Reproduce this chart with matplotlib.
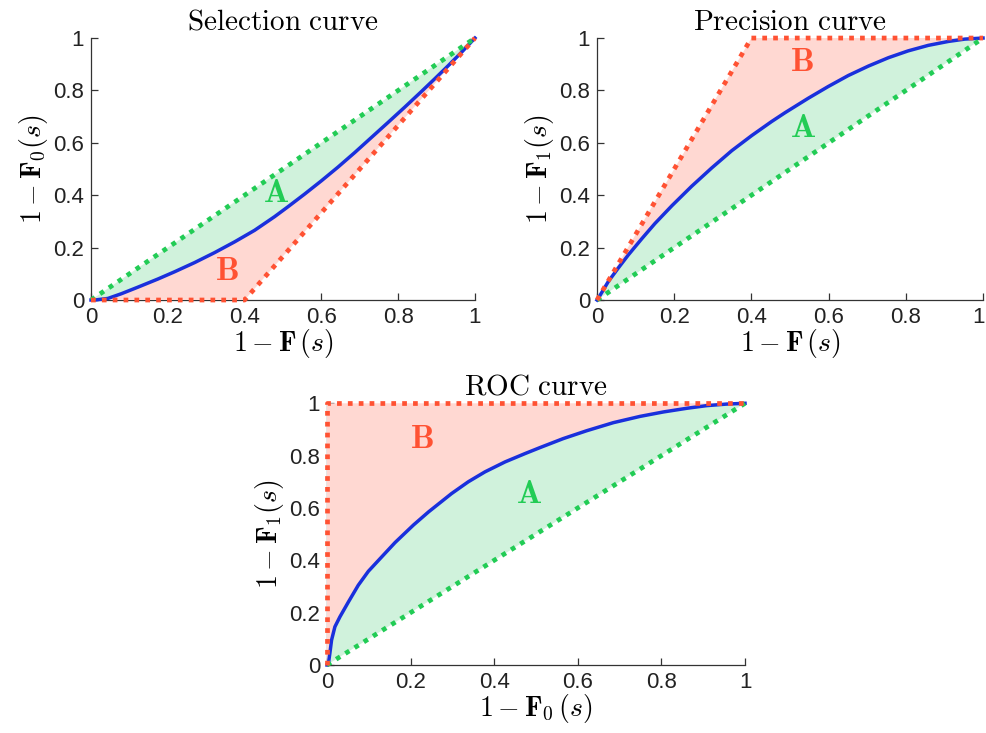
import matplotlib
matplotlib.use("Agg")
import matplotlib.pyplot as plt
import matplotlib.transforms as mtransforms

plt.rcParams['font.family'] = ['Liberation Sans', 'DejaVu Sans']
plt.rcParams['mathtext.fontset'] = 'cm'

# ---------------- data ----------------
# Selection curve: 1-F0(s) vs 1-F(s)
sel_x = [0.0, 0.01, 0.044, 0.079, 0.122, 0.174, 0.218, 0.27, 0.322, 0.374, 0.426, 0.478, 0.513,
         0.556, 0.60, 0.643, 0.687, 0.73, 0.773, 0.817, 0.86, 0.895, 0.93, 0.964, 1.0]
sel_y = [0.0, 0.0, 0.006, 0.024, 0.049, 0.080, 0.108, 0.143, 0.181, 0.222, 0.266, 0.318, 0.356,
         0.404, 0.455, 0.507, 0.563, 0.620, 0.677, 0.736, 0.795, 0.844, 0.894, 0.944, 1.0]
sel_ub_x = [0.0, 1.0]          # random bound
sel_ub_y = [0.0, 1.0]
sel_lb_x = [0.0, 0.4, 1.0]     # perfect bound
sel_lb_y = [0.0, 0.0, 1.0]

# Precision curve: 1-F1(s) vs 1-F(s)
pre_x = [0.0, 0.003, 0.029, 0.055, 0.081, 0.116, 0.15, 0.194, 0.245, 0.297, 0.349, 0.401, 0.452,
         0.487, 0.547, 0.599, 0.651, 0.703, 0.755, 0.806, 0.858, 0.91, 0.953, 1.0]
pre_y = [0.0, 0.006, 0.07, 0.122, 0.172, 0.234, 0.292, 0.36, 0.434, 0.504, 0.570, 0.628, 0.681,
         0.715, 0.770, 0.815, 0.857, 0.893, 0.925, 0.951, 0.972, 0.987, 0.996, 1.0]
pre_lb_x = [0.0, 1.0]
pre_lb_y = [0.0, 1.0]
pre_ub_x = [0.0, 0.4, 1.0]
pre_ub_y = [0.0, 1.0, 1.0]

# ROC curve: 1-F1(s) vs 1-F0(s)
roc_x = [0.0, 0.003, 0.007, 0.011, 0.019, 0.031, 0.051, 0.075, 0.099, 0.135, 0.163, 0.207, 0.243,
         0.298, 0.338, 0.378, 0.426, 0.474, 0.51, 0.565, 0.621, 0.685, 0.749, 0.805, 0.861, 0.908,
         0.956, 1.0]
roc_y = [0.0, 0.0, 0.045, 0.095, 0.146, 0.184, 0.240, 0.305, 0.358, 0.420, 0.468, 0.535, 0.585,
         0.655, 0.700, 0.738, 0.776, 0.808, 0.831, 0.865, 0.895, 0.926, 0.950, 0.967, 0.981, 0.991,
         0.997, 1.0]
roc_lb_x = [0.0, 1.0]
roc_lb_y = [0.0, 1.0]
roc_ub_x = [0.0, 0.0, 1.0]
roc_ub_y = [0.0, 1.0, 1.0]

ticks = [0, 0.2, 0.4, 0.6, 0.8, 1]
tick_labels = ['0', '0.2', '0.4', '0.6', '0.8', '1']

# ---------------- style ----------------
BLUE = '#1a30dc'
GREEN = '#22cc55'
RED = '#ff5233'
FILL_G = '#d0f2dc'
FILL_R = '#ffd8d2'
DOT = (0, (1.0, 1.3))

fig = plt.figure(figsize=(9.86, 7.33), dpi=100)

def setup(ax, title, xlabel, ylabel):
    ax.set_xlim(0, 1)
    ax.set_ylim(0, 1)
    ax.set_xticks(ticks)
    ax.set_xticklabels(tick_labels)
    ax.set_yticks(ticks)
    ax.set_yticklabels(tick_labels)
    for s in ['top', 'right']:
        ax.spines[s].set_visible(False)
    for s in ['left', 'bottom']:
        ax.spines[s].set_color('#333333')
        ax.spines[s].set_linewidth(0.9)
        ax.spines[s].set_zorder(1)
    ax.tick_params(direction='in', length=5, width=0.9, color='#333333',
                   labelsize=16, labelcolor='#222222', pad=5)
    ax.set_title(title, fontsize=21, pad=6)
    ax.set_xlabel(xlabel, fontsize=20, labelpad=-1)
    ax.set_ylabel(ylabel, fontsize=20, labelpad=2)

def fill_between_curves(ax, cx, cy, bx, by, color):
    px = list(cx) + list(bx)[::-1]
    py = list(cy) + list(by)[::-1]
    ax.fill(px, py, color=color, lw=0, zorder=2)

def draw(ax, cx, cy, gx, gy, rx, ry):
    fill_between_curves(ax, cx, cy, gx, gy, FILL_G)
    fill_between_curves(ax, cx, cy, rx, ry, FILL_R)
    ax.plot(cx, cy, color=BLUE, lw=2.5, zorder=4, clip_on=False)
    ax.plot(gx, gy, color=GREEN, lw=3.4, ls=DOT, dash_capstyle='butt', zorder=5, clip_on=False)
    ax.plot(rx, ry, color=RED, lw=3.4, ls=DOT, dash_capstyle='butt', zorder=5, clip_on=False)

def label(ax, x, y, s, color):
    ax.text(x, y, r'$\mathbf{%s}$' % s, color=color, fontsize=24, ha='center', va='center', zorder=6)

# Selection
ax1 = fig.add_axes([0.0923, 0.5907, 0.3894, 0.3574])
draw(ax1, sel_x, sel_y, sel_ub_x, sel_ub_y, sel_lb_x, sel_lb_y)
label(ax1, 0.483, 0.405, 'A', GREEN)
label(ax1, 0.353, 0.11, 'B', RED)
setup(ax1, r'$\mathrm{Selection\ curve}$', r'$1-\mathbf{F}\,(s)$', r'$1-\mathbf{F}_0(s)$')

# Precision
ax2 = fig.add_axes([0.6055, 0.5907, 0.3915, 0.3574])
draw(ax2, pre_x, pre_y, pre_lb_x, pre_lb_y, pre_ub_x, pre_ub_y)
label(ax2, 0.531, 0.905, 'B', RED)
label(ax2, 0.534, 0.655, 'A', GREEN)
setup(ax2, r'$\mathrm{Precision\ curve}$', r'$1-\mathbf{F}\,(s)$', r'$1-\mathbf{F}_1(s)$')
fig.canvas.draw()
last = ax2.get_xticklabels()[-1]
last.set_transform(last.get_transform() + mtransforms.ScaledTranslation(-5 / 100, 0, fig.dpi_scale_trans))

# ROC
ax3 = fig.add_axes([0.3316, 0.0928, 0.424, 0.357])
draw(ax3, roc_x, roc_y, roc_lb_x, roc_lb_y, roc_ub_x, roc_ub_y)
label(ax3, 0.228, 0.86, 'B', RED)
label(ax3, 0.484, 0.65, 'A', GREEN)
setup(ax3, r'$\mathrm{ROC\ curve}$', r'$1-\mathbf{F}_0\,(s)$', r'$1-\mathbf{F}_1(s)$')

fig.savefig('out.png', dpi=100)
